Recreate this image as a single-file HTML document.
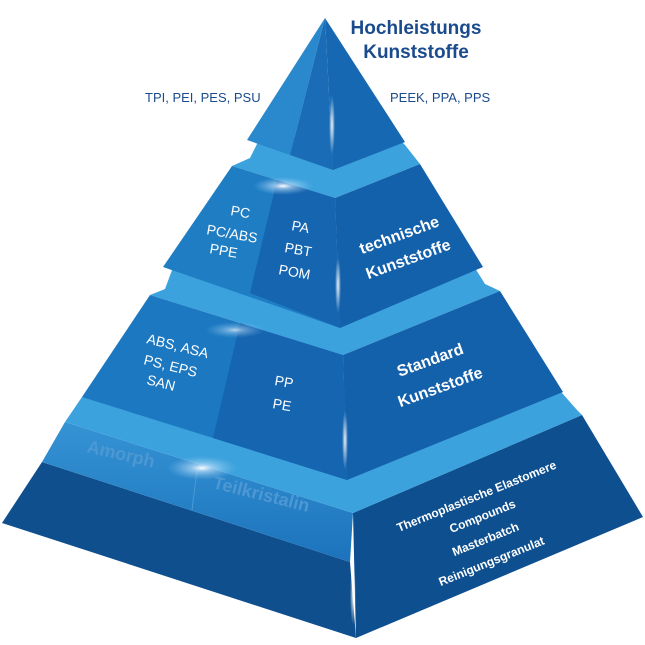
<!DOCTYPE html>
<html><head><meta charset="utf-8"><style>
html,body{margin:0;padding:0;background:#fff;width:645px;height:645px;overflow:hidden}
svg{display:block}
text{font-family:"Liberation Sans",sans-serif}
</style></head><body>
<svg width="645" height="645" viewBox="0 0 645 645" xmlns="http://www.w3.org/2000/svg">
<defs>
<radialGradient id="glow"><stop offset="0" stop-color="#fff" stop-opacity="1"/><stop offset="0.3" stop-color="#cfe9ff" stop-opacity="0.6"/><stop offset="1" stop-color="#8cc8f0" stop-opacity="0"/></radialGradient>
<radialGradient id="vg"><stop offset="0" stop-color="#fff" stop-opacity="0.9"/><stop offset="1" stop-color="#fff" stop-opacity="0"/></radialGradient>
<linearGradient id="amb" x1="0" y1="0" x2="0" y2="1"><stop offset="0" stop-color="#3593d4"/><stop offset="1" stop-color="#1c73bc"/></linearGradient>
</defs>
<!-- bottom tier -->
<polygon points="2,523 42,462 350,562 356,638" fill="#0f4f8e"/>
<polygon points="65,422 353,513 350,562 42,462" fill="url(#amb)"/>
<line x1="197" y1="470" x2="192" y2="510" stroke="#4a9ad6" stroke-width="1"/>
<polygon points="353,513 582,415 643,517 356,638" fill="#0e4f8f"/>
<polygon points="65,422 82,397 95,385 555,385 577,410 582,415 353,513" fill="#3ca2dd"/>
<!-- standard tier -->
<polygon points="150,295 165,289 175,262 470,260 485,284 500,291 343,355" fill="#3ca2dd"/>
<polygon points="150,295 343,355 347,480 82,397" fill="#1b78c1"/>
<polygon points="240,323 343,355 347,480 213,438" fill="#1665b0"/>
<polygon points="343,355 500,291 563,392 347,480" fill="#1461ab"/>
<!-- tech tier -->
<polygon points="232,166 250,158 260,138 395,135 405,145 420,164 335,198" fill="#3ca2dd"/>
<polygon points="232,166 335,198 340,328 163,267" fill="#1f7dc4"/>
<polygon points="277,180 335,198 340,328 250,293" fill="#1665b0"/>
<polygon points="335,198 420,164 483,267 340,328" fill="#1461ab"/>
<!-- top pyramid -->
<polygon points="325,18 290,155 247,140" fill="#2a88cd"/>
<polygon points="325,18 333,170 290,155" fill="#1a6cb6"/>
<polygon points="325,18 405,142 333,170" fill="#1668b2"/>
<!-- glows -->
<ellipse cx="332" cy="125" rx="3" ry="30" fill="url(#vg)"/>
<ellipse cx="338" cy="285" rx="3" ry="28" fill="url(#vg)"/>
<ellipse cx="345" cy="440" rx="3" ry="30" fill="url(#vg)"/>
<ellipse cx="353" cy="595" rx="3" ry="30" fill="url(#vg)"/>
<ellipse cx="283" cy="186" rx="30" ry="9" fill="url(#glow)"/>
<ellipse cx="235" cy="330" rx="30" ry="8" fill="url(#glow)" opacity="0.7"/>
<ellipse cx="202" cy="468" rx="35" ry="12" fill="url(#glow)"/>
<!-- texts -->
<text x="416" y="34" text-anchor="middle" font-size="19" font-weight="bold" fill="#1a4b8c">Hochleistungs</text>
<text x="416" y="58" text-anchor="middle" font-size="19" font-weight="bold" fill="#1a4b8c">Kunststoffe</text>
<text x="145" y="102" font-size="13" fill="#1a4b8c">TPI, PEI, PES, PSU</text>
<text x="390" y="102" font-size="13" fill="#1a4b8c">PEEK, PPA, PPS</text>
<g fill="#fff" font-size="14">
<text x="230" y="215" transform="rotate(10 230 215)">PC</text>
<text x="206" y="234" transform="rotate(10 206 234)">PC/ABS</text>
<text x="209" y="253" transform="rotate(10 209 253)">PPE</text>
<text x="291" y="230" transform="rotate(10 291 230)">PA</text>
<text x="284" y="252" transform="rotate(10 284 252)">PBT</text>
<text x="278" y="274" transform="rotate(10 278 274)">POM</text>
<text x="146" y="343" transform="rotate(14 146 343)">ABS, ASA</text>
<text x="143" y="364" transform="rotate(14 143 364)">PS, EPS</text>
<text x="146" y="384" transform="rotate(14 146 384)">SAN</text>
<text x="274" y="385" transform="rotate(10 274 385)">PP</text>
<text x="272" y="408" transform="rotate(10 272 408)">PE</text>
</g>
<g fill="#fff" font-size="16" font-weight="bold" text-anchor="middle">
<text x="401" y="240" transform="rotate(-20 401 240)">technische</text>
<text x="410" y="264" transform="rotate(-20 410 264)">Kunststoffe</text>
<text x="432" y="365" transform="rotate(-20 432 365)">Standard</text>
<text x="442" y="392" transform="rotate(-20 442 392)">Kunststoffe</text>
</g>
<g fill="#fff" font-size="12" font-weight="bold" text-anchor="middle">
<text x="478" y="500" transform="rotate(-22 478 500)">Thermoplastische Elastomere</text>
<text x="484" y="520" transform="rotate(-22 484 520)">Compounds</text>
<text x="487" y="543" transform="rotate(-22 487 543)">Masterbatch</text>
<text x="493" y="565" transform="rotate(-22 493 565)">Reinigungsgranulat</text>
</g>
<text x="86" y="452" font-size="18" font-weight="bold" fill="#4d98d3" transform="rotate(13 86 452)">Amorph</text>
<text x="212" y="488" font-size="18" font-weight="bold" fill="#4d98d3" transform="rotate(14 212 488)">Teilkristalin</text>
</svg>
</body></html>
